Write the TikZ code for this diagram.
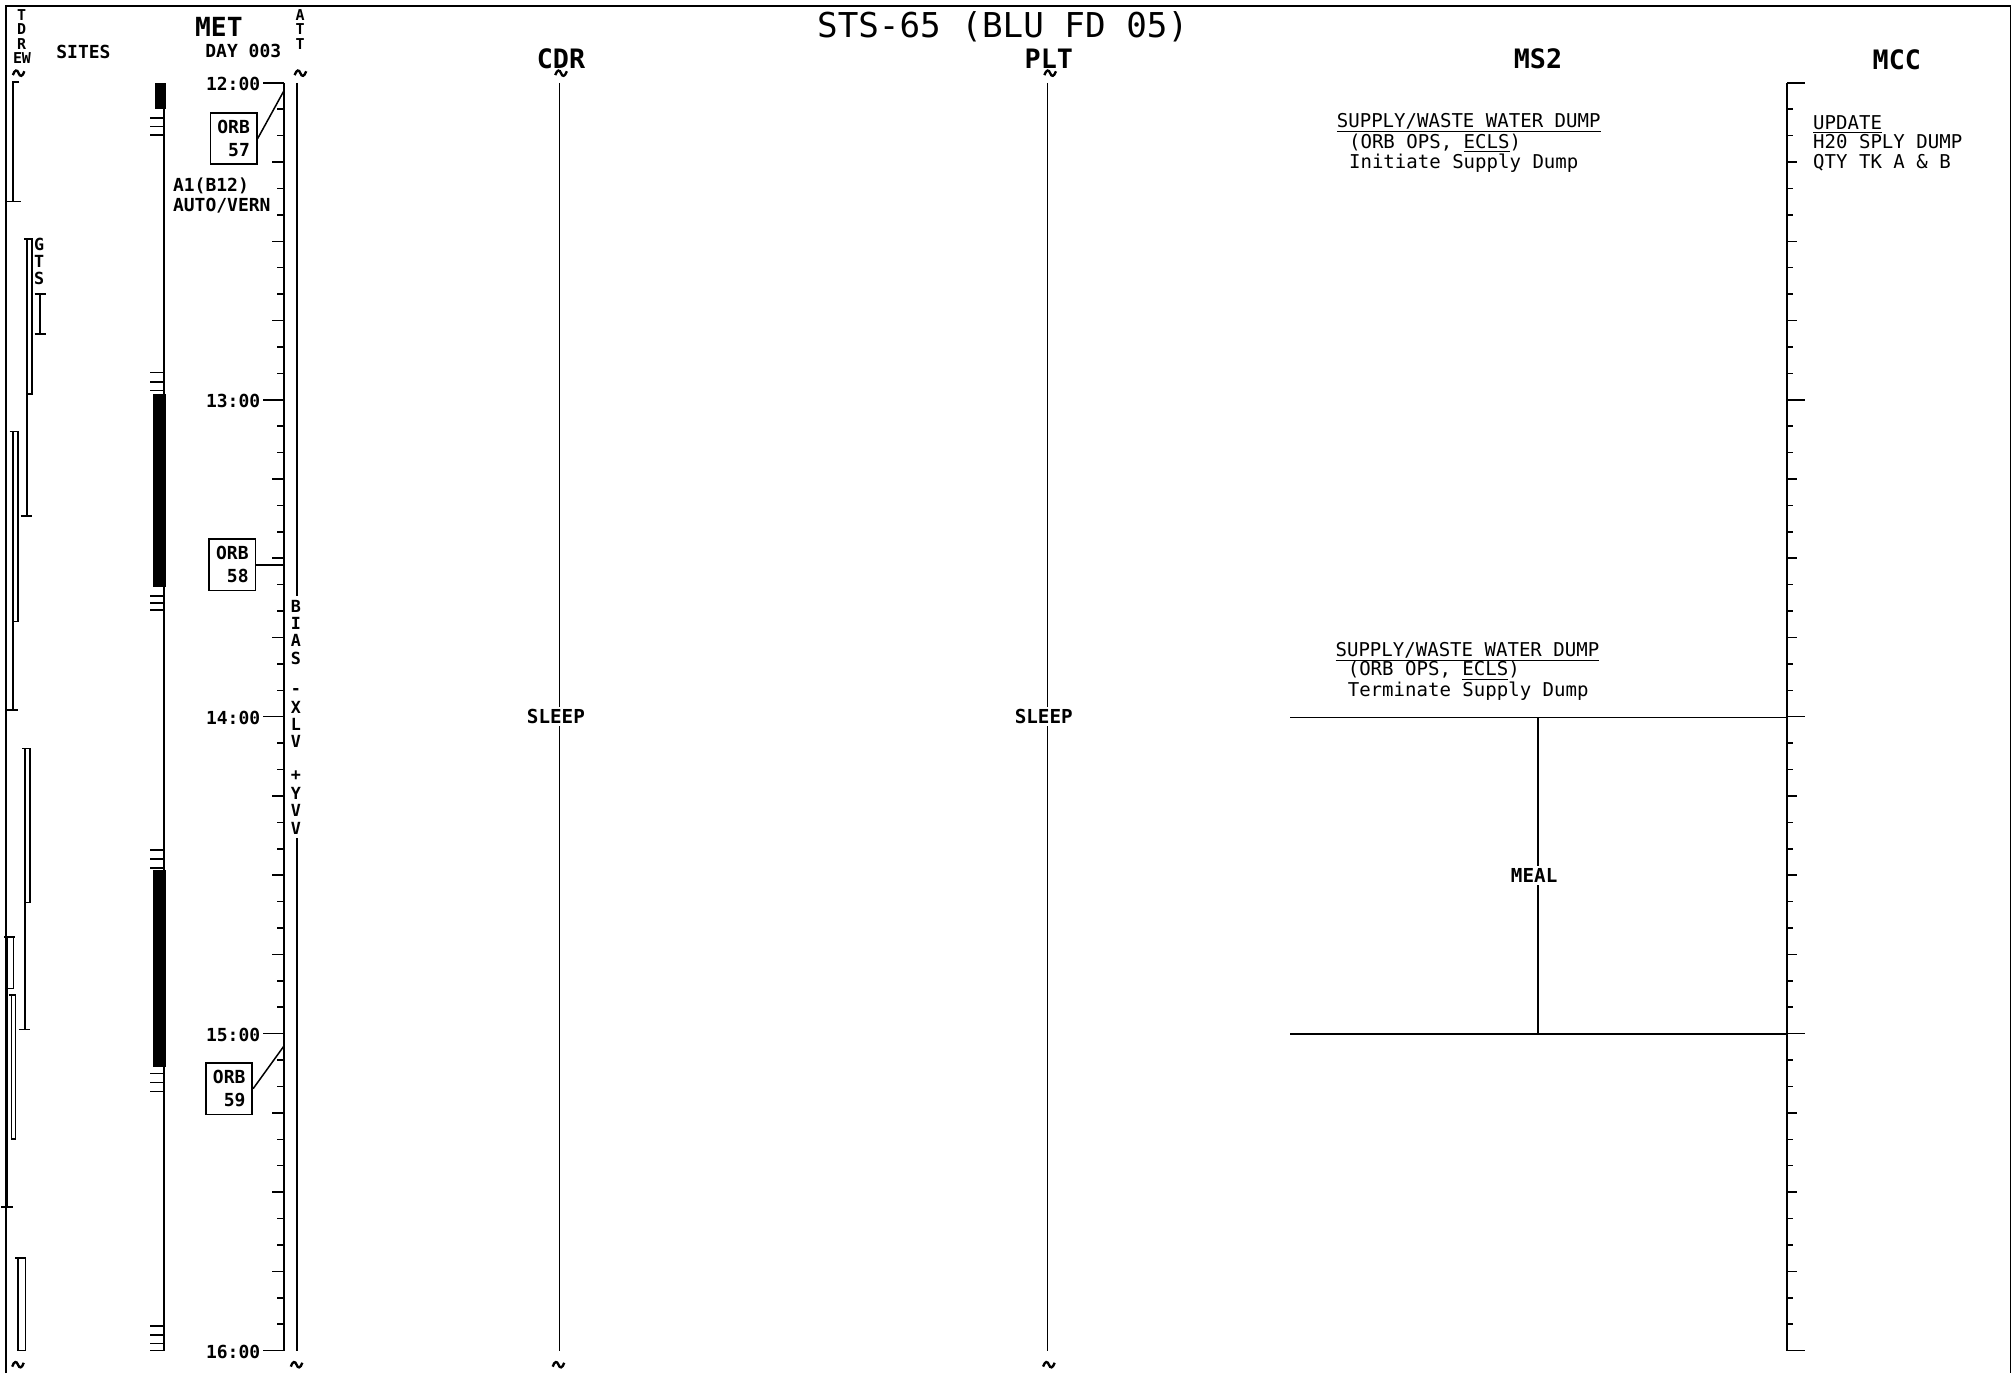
\documentclass[tikz,border=0pt]{standalone}
\usepackage{fontspec}
\setmonofont{DejaVu Sans Mono}
\newcommand\myul[1]{\setbox0\hbox{#1}\rlap{\rule[-1.9pt]{\wd0}{0.5pt}}\box0}
\newcommand\brkmark[2]{\begin{scope}[shift={(#1,#2)}]\draw[line width=1.1pt] (-4.5,1.5) .. controls (-3,-3) and (-1,-3) .. (0,0) .. controls (1,3) and (3,3) .. (4.5,-1.5);\end{scope}}
\newcommand\tstrip[5]{%
  \draw[rulel] (#1-2.5,#3) -- (#2+1,#3);
  \draw[rulel] (#2,#3) -- (#2,#4) -- (#1,#4);
  \draw[rulel] (#1,#3) -- (#1,#5);
  \draw[rulel] (#1-5,#5) -- (#1+4,#5);}
\begin{document}
\begin{tikzpicture}[x=0.6pt,y=-0.6pt,
  rulel/.style={line width=0.7pt},
  axisl/.style={line width=0.9pt},
  titletxt/.style={inner sep=0pt, font=\ttfamily\fontsize{16}{16}\selectfont},
  headtxt/.style={inner sep=0pt, font=\ttfamily\bfseries\fontsize{12.5}{12.5}\selectfont},
  labtxt/.style={inner sep=0pt, font=\ttfamily\bfseries\fontsize{8.4}{10.8}\selectfont},
  bodytxt/.style={inner sep=0pt, font=\ttfamily\fontsize{8.9}{9.6}\selectfont},
  boldbody/.style={inner sep=0pt, font=\ttfamily\bfseries\fontsize{9}{9.6}\selectfont},
  tinytxt/.style={inner sep=0pt, font=\ttfamily\bfseries\fontsize{7}{7}\selectfont},
  verttxt/.style={inner sep=0pt, font=\ttfamily\bfseries\fontsize{7.8}{7.8}\selectfont},
  orbbox/.style={draw, line width=0.8pt, inner sep=0pt, minimum width=21.6pt, minimum height=24pt, align=left, font=\ttfamily\bfseries\fontsize{8.4}{10.8}\selectfont},
  barfill/.style={fill=black, draw=none}]
\useasboundingbox (0,0) rectangle (1568,1069.5);
% frame
\draw[rulel] (4.5,1069.5) -- (4.5,4.5) -- (1566,4.5) -- (1566,1069.5);
% title and headers
\node[titletxt] (title) at (781,21) {STS-65 (BLU FD 05)};
\node[headtxt] (cdr) at (437,46) {CDR};
\node[headtxt] (plt) at (817,46) {PLT};
\node[headtxt] (ms2) at (1198,46) {MS2};
\node[headtxt] (mcc) at (1477.5,46.5) {MCC};
\node[inner sep=0pt, font=\ttfamily\bfseries\fontsize{12.3}{12.3}\selectfont] (met) at (170.5,21) {MET};
\node[labtxt] (day) at (189.5,40) {DAY 003};
\node[labtxt] (sites) at (65,40.5) {SITES};
% TDRE / TDRW
\node[tinytxt] (tT) at (16.9,12) {T};
\node[tinytxt] (tD) at (16.9,23) {D};
\node[tinytxt] (tR) at (16.9,34) {R};
\node[tinytxt] (tE) at (13.8,45) {E};
\node[tinytxt] (tW) at (20.6,45) {W};
% ATT
\node[tinytxt] (aA) at (233.7,12) {A};
\node[tinytxt] (aT1) at (233.7,23) {T};
\node[tinytxt] (aT2) at (233.7,34) {T};
% break marks
\brkmark{14.5}{57}
\brkmark{234}{57}
\brkmark{437}{57}
\brkmark{818}{57}
\brkmark{14}{1063}
\brkmark{231}{1063}
\brkmark{435}{1063}
\brkmark{817}{1063}
% TDRS strips
\draw[rulel] (15,64) -- (10,64) -- (10,157);
\draw[rulel] (5.5,157) -- (16,157);
\tstrip{21}{25}{186}{307}{402}
\draw[rulel] (31,229) -- (31,260);
\draw[rulel] (27,229) -- (36,229);
\draw[rulel] (27,260) -- (36,260);
\node[verttxt] (gG) at (30.5,190) {G};
\node[verttxt] (gT) at (30.5,203.5) {T};
\node[verttxt] (gS) at (30.5,217) {S};
\tstrip{10}{14}{336}{484}{553}
\tstrip{19.5}{23.5}{583}{703}{802}
\tstrip{6}{10.5}{730}{770}{940}
\draw[rulel] (7,775) -- (12.5,775);
\draw[rulel] (9,775) -- (9,887) -- (12,887) -- (12,775);
\draw[rulel] (12,980) -- (20,980) -- (20,1052) -- (14,1052) -- (14,980);
% black bar column
\draw[axisl] (128,64.5) -- (128,1052);
\fill[barfill] (120.5,64.5) rectangle (129,85);
\fill[barfill] (119.5,307) rectangle (129,457);
\fill[barfill] (119,678) rectangle (129,831);
\foreach \yy in {92,98.7,105,290,297.4,304,464.4,469.8,475.3,662,669,676,836,843,850,1033,1040,1046.5,1052}{
  \draw[rulel] (117,\yy) -- (128,\yy);}
% MET axis and MCC axis ticks
\draw[axisl] (221,64.5) -- (221,1052);
\draw[axisl] (1392,64.5) -- (1392,1052);
\foreach \i in {0,...,48}{
  \pgfmathsetmacro\yy{64.5+\i*20.573}
  \pgfmathtruncatemacro\mh{mod(\i,12)}
  \pgfmathtruncatemacro\mq{mod(\i,3)}
  \ifnum\mh=0 \def\lena{16}\def\lenb{14}\else\ifnum\mq=0 \def\lena{9}\def\lenb{8}\else\def\lena{5}\def\lenb{4.5}\fi\fi
  \draw[rulel] (221,\yy) -- ++(-\lena,0);
  \draw[rulel] (1392,\yy) -- ++(\lenb,0);
}
\node[labtxt, anchor=east] (h12) at (203,65.5) {12:00};
\node[labtxt, anchor=east] (h13) at (203,312.4) {13:00};
\node[labtxt, anchor=east] (h14) at (203,559.3) {14:00};
\node[labtxt, anchor=east] (h15) at (203,806.1) {15:00};
\node[labtxt, anchor=east] (h16) at (203,1053) {16:00};
% ORB boxes
\node[orbbox] (o57) at (182,108) {ORB\\\hphantom{0}57};
\node[orbbox] (o58) at (181,440) {ORB\\\hphantom{0}58};
\node[orbbox] (o59) at (178.5,848) {ORB\\\hphantom{0}59};
\coordinate (a57) at (221,71);
\coordinate (a58) at (221,440);
\coordinate (a59) at (221,815);
\draw[rulel] (o57.east) -- (a57);
\draw[rulel] (o58.east) -- (a58);
\draw[rulel] (o59.east) -- (a59);
\node[labtxt, anchor=west] (a1) at (134.5,145) {A1(B12)};
\node[labtxt, anchor=west] (auto) at (134.5,160) {AUTO/VERN};
% ATT line with vertical text
\node[verttxt] (vB) at (230.5,472) {B};
\node[verttxt] (vI) at (230.5,485.5) {I};
\node[verttxt] (vA) at (230.5,499) {A};
\node[verttxt] (vS) at (230.5,512.5) {S};
\node[verttxt] (vm) at (230.5,539) {-};
\node[verttxt] (vX) at (230.5,551) {X};
\node[verttxt] (vL) at (230.5,564) {L};
\node[verttxt] (vV1) at (230.5,577.5) {V};
\node[verttxt] (vp) at (230.5,604) {+};
\node[verttxt] (vY) at (230.5,618) {Y};
\node[verttxt] (vV2) at (230.5,631.5) {V};
\node[verttxt] (vV3) at (230.5,645) {V};
\coordinate (attTop) at (231,64.5);
\coordinate (attBot) at (231,1052);
\draw[axisl] (attTop) -- ([yshift=1.5pt]vB.north -| attTop);
\draw[axisl] ([yshift=-1.5pt]vV3.south -| attBot) -- (attBot);
% CDR and PLT
\node[boldbody] (sl1) at (433,558) {SLEEP};
\node[boldbody] (sl2) at (813,558) {SLEEP};
\coordinate (cdrT) at (436,64.5);
\coordinate (cdrB) at (436,1052);
\coordinate (pltT) at (816,64.5);
\coordinate (pltB) at (816,1052);
\draw[rulel] (cdrT) -- ([yshift=1pt]sl1.north -| cdrT);
\draw[rulel] ([yshift=-1pt]sl1.south -| cdrB) -- (cdrB);
\draw[rulel] (pltT) -- ([yshift=1pt]sl2.north -| pltT);
\draw[rulel] ([yshift=-1pt]sl2.south -| pltB) -- (pltB);
% MS2
\node[bodytxt, anchor=base west] (m1a) at (1041,99.5) {\myul{SUPPLY/WASTE WATER DUMP}};
\node[bodytxt, anchor=base west] (m1b) at (1050.5,115.5) {(ORB OPS, \myul{ECLS})};
\node[bodytxt, anchor=base west] (m1c) at (1050.5,131.5) {Initiate Supply Dump};
\node[bodytxt, anchor=base west] (m2a) at (1040,511.5) {\myul{SUPPLY/WASTE WATER DUMP}};
\node[bodytxt, anchor=base west] (m2b) at (1049.5,526.5) {(ORB OPS, \myul{ECLS})};
\node[bodytxt, anchor=base west] (m2c) at (1049.5,542.5) {Terminate Supply Dump};
% MEAL
\coordinate (mealL1) at (1005,559);
\coordinate (mealR1) at (1392,559);
\coordinate (mealL2) at (1005,805.5);
\coordinate (mealR2) at (1392,805.5);
\draw[rulel] (mealL1) -- (mealR1);
\draw[rulel] (mealL2) -- (mealR2);
\node[boldbody] (meal) at (1195,682) {MEAL};
\coordinate (mealT) at (1198,559);
\coordinate (mealB) at (1198,805.5);
\draw[rulel] (mealT) -- ([yshift=1pt]meal.north -| mealT);
\draw[rulel] ([yshift=-1pt]meal.south -| mealB) -- (mealB);
% MCC
\node[bodytxt, anchor=base west] (c1) at (1412,100.5) {\myul{UPDATE}};
\node[bodytxt, anchor=base west] (c2) at (1412,116) {H20 SPLY DUMP};
\node[bodytxt, anchor=base west] (c3) at (1412,131.5) {QTY TK A \& B};
\end{tikzpicture}
\end{document}
